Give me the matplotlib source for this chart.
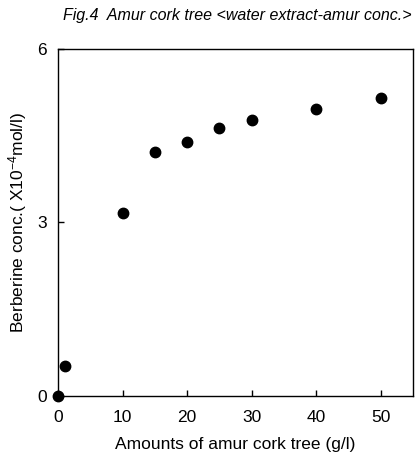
import numpy as np
import matplotlib
matplotlib.use('Agg')
import matplotlib.pyplot as plt

plt.rcParams['font.family'] = ['Liberation Sans', 'DejaVu Sans']
plt.rcParams['mathtext.fontset'] = 'custom'
plt.rcParams['mathtext.rm'] = 'Liberation Sans'
plt.rcParams['mathtext.default'] = 'regular'

# amount of amur cork tree (g/l) and berberine conc. (x10^-4 mol/l)
amount = [0, 1, 10, 15, 20, 25, 30, 40, 50]
conc = [0.0, 0.52, 3.16, 4.22, 4.39, 4.64, 4.78, 4.97, 5.16]

fig = plt.figure(figsize=(4.18, 4.55), dpi=100)
ax = fig.add_axes([0.139, 0.130, 0.849, 0.762])
ax.plot(amount, conc, 'o', color='black', markersize=7.5, clip_on=False, zorder=5)

ax.set_xlim(0, 55)
ax.set_ylim(0, 6)
ax.set_xticks([0, 10, 20, 30, 40, 50])
ax.set_yticks([0, 3, 6])
ax.tick_params(direction='in', length=4, labelsize=12.5, width=1)
ax.tick_params(axis='x', pad=10)
ax.tick_params(axis='y', pad=8)
for s in ax.spines.values():
    s.set_linewidth(1)

ax.set_xlabel('Amounts of amur cork tree (g/l)', fontsize=12.5, labelpad=9)
ax.set_ylabel('Berberine conc.( X10$^{-4}$mol/l)', fontsize=12.5, labelpad=6)
fig.text(0.568, 0.965, 'Fig.4  Amur cork tree <water extract-amur conc.>',
         ha='center', va='center', style='italic', fontsize=11.5)

fig.savefig('out.png', dpi=100)
